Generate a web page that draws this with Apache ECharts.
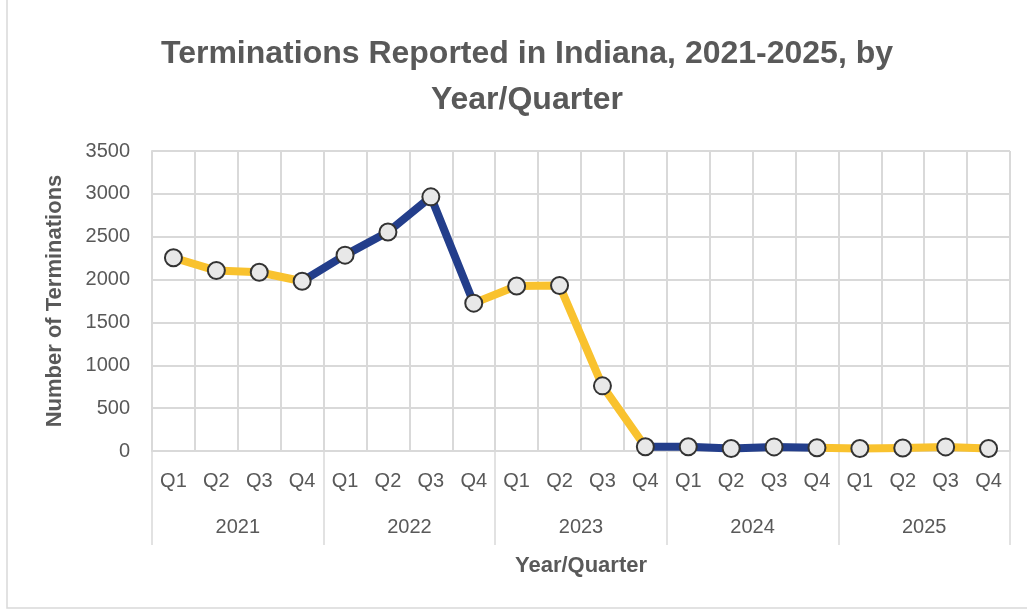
<!DOCTYPE html>
<html>
<head>
<meta charset="utf-8">
<script src="https://cdn.jsdelivr.net/npm/echarts@6/dist/echarts.min.js"></script>
<style>
  html, body { margin: 0; padding: 0; background: #fff; }
  #chart { width: 1027px; height: 610px; }
</style>
</head>
<body>
<div id="chart"></div>
<script>
// Data
const years = ['2021', '2022', '2023', '2024', '2025'];
const quarters = ['Q1', 'Q2', 'Q3', 'Q4'];
const terminations = [
    2255, 2105, 2085, 1980,   // 2021
    2285, 2555, 2965, 1725,   // 2022
    1925, 1930, 760, 50,      // 2023
    50, 30, 48, 38,           // 2024
    30, 35, 48, 30            // 2025
];
const yearColors = ['#F9C22E', '#233E8B', '#F9C22E', '#233E8B', '#F9C22E'];

const FONT = '"Liberation Sans Narrow", "Liberation Sans", Arial, sans-serif';
const TEXT = '#595959';
const GRID = '#D9D9D9';

const qLabels = [];
years.forEach(() => quarters.forEach(q => qLabels.push(q)));

// one line series per year; each includes the last point of the previous year
const lineSeries = years.map((yr, yi) => {
    const d = terminations.map(() => null);
    const start = yi * 4;
    if (yi > 0) d[start - 1] = terminations[start - 1];
    for (let k = 0; k < 4; k++) d[start + k] = terminations[start + k];
    return {
        name: yr,
        type: 'line',
        xAxisIndex: 0,
        data: d,
        showSymbol: false,
        connectNulls: false,
        lineStyle: { color: yearColors[yi], width: 8, cap: 'round', join: 'round' },
        itemStyle: { color: yearColors[yi] },
        z: 2,
        silent: true
    };
});

const markerSeries = {
    name: 'Terminations',
    type: 'scatter',
    xAxisIndex: 0,
    data: terminations,
    symbol: 'circle',
    symbolSize: 17,
    itemStyle: { color: '#E8E8E8', borderColor: '#333333', borderWidth: 2, opacity: 1 },
    z: 5
};

const chart = echarts.init(document.getElementById('chart'), null, { renderer: 'canvas' });

chart.setOption({
    animation: false,
    title: {
        text: 'Terminations Reported in Indiana, 2021-2025, by\nYear/Quarter',
        left: 522,
        textAlign: 'center',
        top: 26,
        textStyle: {
            fontFamily: FONT,
            fontSize: 32,
            fontWeight: 'bold',
            color: TEXT,
            lineHeight: 46
        }
    },
    graphic: [{
        type: 'rect',
        shape: { x: 7, y: -5, width: 1040, height: 613 },
        style: { fill: 'none', stroke: GRID, lineWidth: 1.5 },
        silent: true
    }],
    grid: { left: 152, right: 17, top: 151, bottom: 159 },
    xAxis: [{
        type: 'category',
        data: qLabels,
        boundaryGap: true,
        axisLine: { show: true, lineStyle: { color: GRID, width: 1.5 } },
        axisTick: { show: false },
        axisLabel: { interval: 0, margin: 20, fontFamily: FONT, fontSize: 20, color: TEXT },
        splitLine: { show: true, interval: 0, lineStyle: { color: GRID, width: 2 } }
    }, {
        type: 'category',
        data: years,
        position: 'bottom',
        boundaryGap: true,
        axisLine: { show: false },
        axisTick: { show: true, interval: 0, length: 94, lineStyle: { color: GRID, width: 1.5 } },
        axisLabel: { interval: 0, margin: 66, fontFamily: FONT, fontSize: 20, color: TEXT },
        splitLine: { show: false },
        name: 'Year/Quarter',
        nameLocation: 'middle',
        nameGap: 104,
        nameTextStyle: { fontFamily: FONT, fontSize: 22, fontWeight: 'bold', color: TEXT }
    }],
    yAxis: {
        type: 'value',
        min: 0,
        max: 3500,
        interval: 500,
        axisLine: { show: true, lineStyle: { color: GRID, width: 2 } },
        axisTick: { show: false },
        axisLabel: {
            margin: 22, fontFamily: FONT, fontSize: 20, color: TEXT,
            formatter: v => String(v)
        },
        splitLine: { show: true, lineStyle: { color: GRID, width: 2 } },
        name: 'Number of Terminations',
        nameLocation: 'middle',
        nameRotate: 90,
        nameGap: 86,
        nameTextStyle: { fontFamily: FONT, fontSize: 22, fontWeight: 'bold', color: TEXT }
    },
    series: lineSeries.concat([markerSeries])
});
</script>
</body>
</html>
